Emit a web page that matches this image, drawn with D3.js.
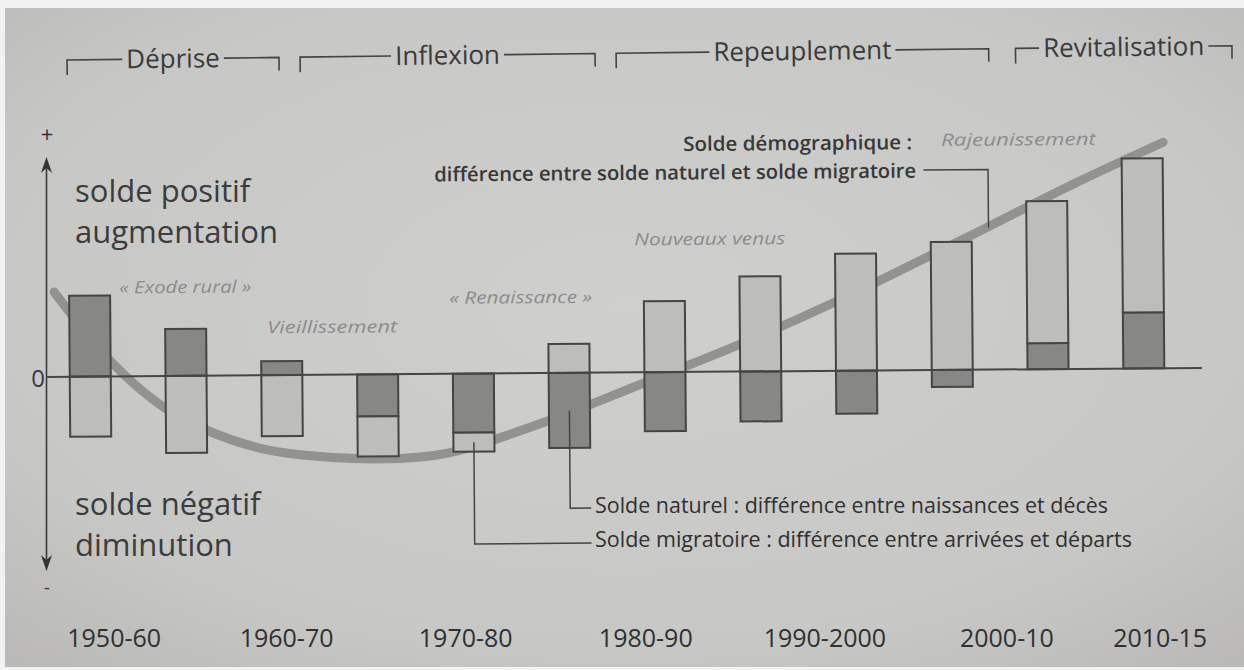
<!DOCTYPE html>
<html><head><meta charset="utf-8">
<script src="https://cdn.jsdelivr.net/npm/d3@7"></script>
<style>html,body{margin:0;padding:0;background:#fff;} svg{display:block;}</style>
</head><body>
<svg id="chart" width="1244" height="670"></svg>
<script>
// ---------------- DATA ----------------
const periods = ["1950-60", "1960-70", "1970-80", "1980-90", "1990-2000", "2000-10", "2010-15"];
const phases = ["Déprise", "Inflexion", "Repeuplement", "Revitalisation"];
const barIds = d3.range(12);
// solde naturel (dark) and solde migratoire (light), arbitrary units
const soldeNaturel    = [8.1, 4.7, 1.4, -4.2, -5.9, -7.5, -5.9, -5.0, -4.3, -1.7, 2.6, 5.6];
const soldeMigratoire = [-6.0, -7.7, -6.1, -4.0, -1.9, 2.9, 7.1, 9.5, 11.7, 12.8, 14.2, 15.4];
// solde démographique curve (bar-index position, value)
const demoPos   = [-0.37, 0.23, 0.76, 1.2, 1.77, 2.21, 2.92, 3.44, 3.83, 4.8, 5.78, 6.77, 7.76, 9.22, 10.26, 11.22];
const demoValue = [8.5, 1.35, -3.1, -5.4, -7.3, -8.0, -8.45, -8.3, -7.7, -4.7, -1.07, 2.66, 6.78, 13.5, 18.4, 22.6];
const annotations = ["« Exode rural »", "Vieillissement", "« Renaissance »", "Nouveaux venus", "Rajeunissement"];
const demoTitle = ["Solde démographique :", "différence entre solde naturel et solde migratoire"];
const legendLabels = ["Solde naturel : différence entre naissances et décès",
                      "Solde migratoire : différence entre arrivées et départs"];
const axisTexts = ["solde positif", "augmentation", "solde négatif", "diminution"];

// ---------------- LAYOUT ----------------
const phaseFrom = [-0.243, 2.19, 5.49, 9.66];
const phaseTo   = [1.97, 5.27, 9.38, 11.92];
const periodAt  = [0.25, 2.05, 3.92, 5.8, 7.67, 9.57, 11.17];
const annotAt   = [[1.0, 8.3, 132], [2.53, 4.2, 130], [4.5, 7.0, 143], [6.48, 12.7, 151], [9.71, 22.4, 155]];

const FONT = "'Open Sans', 'Noto Sans', sans-serif";
const svg = d3.select("#chart");
const defs = svg.append("defs");
const grad = defs.append("radialGradient").attr("id", "paper")
  .attr("cx", "50%").attr("cy", "45%").attr("r", "75%");
grad.append("stop").attr("offset", "0%").attr("stop-color", "#cfcfcd");
grad.append("stop").attr("offset", "70%").attr("stop-color", "#c7c7c5");
grad.append("stop").attr("offset", "100%").attr("stop-color", "#b9b8b7");

svg.append("rect").attr("width", 1244).attr("height", 670).attr("fill", "#f2f2f2");
svg.append("rect").attr("x", 5).attr("y", 8).attr("width", 1239).attr("height", 659).attr("fill", "url(#paper)");

const x = d3.scaleLinear().domain([0, 11]).range([90.25, 90.25 + 11 * 95.78]);
const y = d3.scaleLinear().domain([-10, 10]).range([477, 277]);
const bw = 41;

// vertical axis (unrotated)
const axisG = svg.append("g");
axisG.append("line").attr("x1", 46.5).attr("x2", 46.5).attr("y1", 166).attr("y2", 562)
  .attr("stroke", "#3a3a3a").attr("stroke-width", 1.6);
axisG.append("path").attr("d", "M46.5,157 L41,173 L46.5,168 L52,173 Z").attr("fill", "#333");
axisG.append("path").attr("d", "M46.5,571 L41,555 L46.5,560 L52,555 Z").attr("fill", "#333");
axisG.append("text").attr("x", 47).attr("y", 142).attr("text-anchor", "middle")
  .attr("font-family", FONT).attr("font-size", 22).attr("fill", "#333").text("+");
axisG.append("text").attr("x", 47).attr("y", 594).attr("text-anchor", "middle")
  .attr("font-family", FONT).attr("font-size", 18).attr("fill", "#333").text("-");
axisG.append("text").attr("x", 38).attr("y", 387).attr("text-anchor", "middle")
  .attr("font-family", FONT).attr("font-size", 24).attr("fill", "#3a3a3a").text("0");

const sideY = [202, 243, 515, 556];
axisG.selectAll("text.side").data(axisTexts).join("text").attr("class", "side")
  .attr("x", 75).attr("y", (d, i) => sideY[i])
  .attr("font-family", FONT).attr("font-size", 31).attr("fill", "#3c3c3c").text(d => d);

// rotated chart group (photo tilt)
const g = svg.append("g").attr("transform", "rotate(-0.45, 46, 377)");

// demographic curve behind bars
const curvePts = demoPos.map((p, i) => [p, demoValue[i]]);
g.append("path")
  .attr("d", d3.line().x(d => x(d[0])).y(d => y(d[1])).curve(d3.curveCatmullRom.alpha(0.5))(curvePts))
  .attr("fill", "none").attr("stroke", "#929291").attr("stroke-width", 9).attr("stroke-linecap", "round");

// bars
const segs = [];
barIds.forEach(i => {
  const n = soldeNaturel[i], m = soldeMigratoire[i];
  segs.push({ i, t: "nat", a: 0, b: n });
  if (n * m >= 0) segs.push({ i, t: "mig", a: n, b: n + m });
  else segs.push({ i, t: "mig", a: 0, b: m });
});
g.selectAll("rect.seg").data(segs).join("rect").attr("class", "seg")
  .attr("x", d => x(d.i) - bw / 2).attr("width", bw)
  .attr("y", d => y(Math.max(d.a, d.b)))
  .attr("height", d => Math.abs(y(d.a) - y(d.b)))
  .attr("fill", d => d.t === "nat" ? "#878785" : "#bdbdbb")
  .attr("stroke", "#444").attr("stroke-width", 2);

// zero line
g.append("line").attr("x1", 46).attr("x2", 1202).attr("y1", y(0)).attr("y2", y(0))
  .attr("stroke", "#454545").attr("stroke-width", 2);

// italic annotations
g.selectAll("text.annot").data(annotations).join("text").attr("class", "annot")
  .attr("x", (d, i) => x(annotAt[i][0])).attr("y", (d, i) => y(annotAt[i][1]))
  .attr("text-anchor", "middle").attr("font-family", FONT).attr("font-style", "italic")
  .attr("font-size", 17).attr("fill", "#8c8c8b")
  .attr("textLength", (d, i) => annotAt[i][2]).attr("lengthAdjust", "spacingAndGlyphs")
  .text(d => d);

// demographic balance title + leader
const demoAt = [[8.6, 22.1, 229], [8.64, 19.25, 482]];
g.selectAll("text.demo").data(demoTitle).join("text").attr("class", "demo")
  .attr("x", (d, i) => x(demoAt[i][0])).attr("y", (d, i) => y(demoAt[i][1]))
  .attr("text-anchor", "end").attr("font-family", FONT).attr("font-weight", 600)
  .attr("font-size", 20).attr("fill", "#383838")
  .attr("textLength", (d, i) => demoAt[i][2]).attr("lengthAdjust", "spacingAndGlyphs")
  .text(d => d);
g.append("path")
  .attr("d", d3.line()([[x(8.715), y(20.0)], [x(9.39), y(20.0)], [x(9.39), y(14.2)]]))
  .attr("fill", "none").attr("stroke", "#444").attr("stroke-width", 1.5);

// legend leaders
const natMid = soldeNaturel[5] / 2;
const migMid = soldeNaturel[4] + soldeMigratoire[4] / 2;
g.append("path")
  .attr("d", d3.line()([[x(5), y(natMid)], [x(5), y(-13.53)], [x(5.22), y(-13.53)]]))
  .attr("fill", "none").attr("stroke", "#444").attr("stroke-width", 1.5);
g.append("path")
  .attr("d", d3.line()([[x(4), y(migMid)], [x(4), y(-17.03)], [x(5.22), y(-17.03)]]))
  .attr("fill", "none").attr("stroke", "#444").attr("stroke-width", 1.5);

// legend texts (unrotated)
const legY = [513, 547], legW = [513, 537];
svg.selectAll("text.leg").data(legendLabels).join("text").attr("class", "leg")
  .attr("x", 595).attr("y", (d, i) => legY[i])
  .attr("font-family", FONT).attr("font-size", 21).attr("fill", "#303030")
  .attr("textLength", (d, i) => legW[i]).attr("lengthAdjust", "spacingAndGlyphs")
  .text(d => d);

// period labels
svg.selectAll("text.period").data(periods).join("text").attr("class", "period")
  .attr("x", (d, i) => x(periodAt[i])).attr("y", 647).attr("text-anchor", "middle")
  .attr("font-family", FONT).attr("font-size", 25).attr("fill", "#303030").text(d => d);

// phase brackets (tilted more at top)
const tg = svg.append("g").attr("transform", "rotate(-0.7, 640, 53)");
const lineY = 53, tickY = 68, textY = 62;
phases.forEach((p, i) => {
  const x0 = x(phaseFrom[i]), x1 = x(phaseTo[i]), xc = (x0 + x1) / 2;
  const t = tg.append("text").attr("x", xc).attr("y", textY).attr("text-anchor", "middle")
    .attr("font-family", FONT).attr("font-size", 26).attr("fill", "#3a3a3a").text(p);
  const w = t.node().getComputedTextLength();
  tg.append("path").attr("d", d3.line()([[x0, tickY], [x0, lineY], [xc - w / 2 - 4, lineY]]))
    .attr("fill", "none").attr("stroke", "#444").attr("stroke-width", 1.6);
  tg.append("path").attr("d", d3.line()([[xc + w / 2 + 4, lineY], [x1, lineY], [x1, tickY - 2]]))
    .attr("fill", "none").attr("stroke", "#444").attr("stroke-width", 1.6);
});
</script>
</body></html>
